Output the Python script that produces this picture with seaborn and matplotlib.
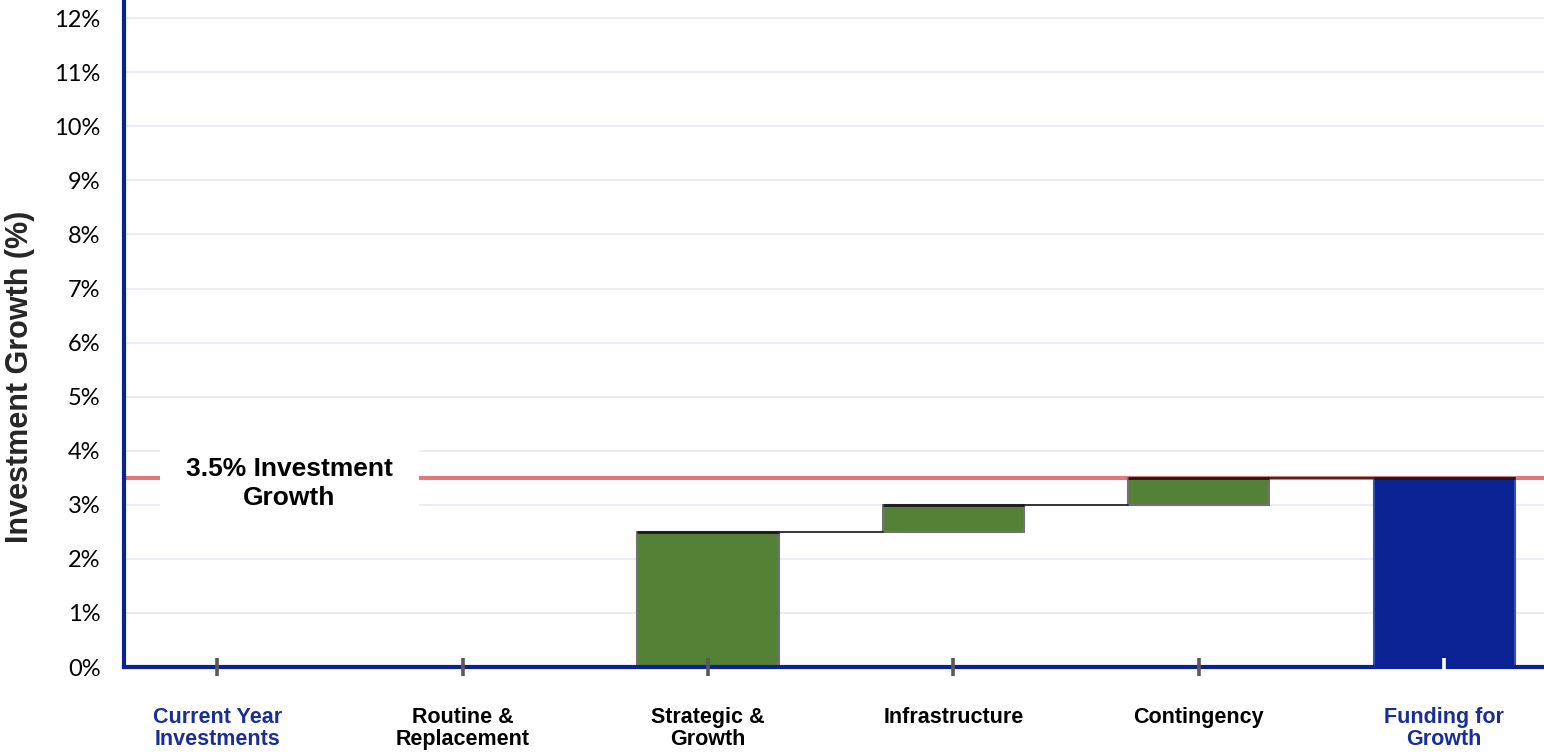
import numpy as np
import pandas as pd
import matplotlib
matplotlib.use("Agg")
import matplotlib.pyplot as plt
import seaborn as sns

# ---- data ----
categories = ["Current Year\nInvestments", "Routine &\nReplacement", "Strategic &\nGrowth",
              "Infrastructure", "Contingency", "Funding for\nGrowth"]
bar_base = [0.0, 0.0, 0.0, 2.5, 3.0, 0.0]
bar_height = [0.0, 0.0, 2.5, 0.5, 0.5, 3.5]
bar_kind = ["total", "step", "step", "step", "step", "total"]
target_growth = 3.5
target_label = "3.5% Investment\nGrowth"
y_ticks = list(range(0, 13))
y_tick_labels = [f"{v}%" for v in y_ticks]
y_label = "Investment Growth (%)"

# ---- style ----
sns.set_theme(style="white")
plt.rcParams["font.family"] = ["Liberation Sans", "DejaVu Sans"]

BLUE = "#0B2293"
GREEN = "#538135"
kind_face = {"total": BLUE, "step": GREEN}
kind_edge = {"total": "#3A4FB0", "step": "#767171"}
label_color = {"total": "#1A2F96", "step": "black"}

df = pd.DataFrame({"category": categories, "height": bar_height, "base": bar_base})

fig = plt.figure(figsize=(15.44, 7.53), dpi=100)
ax = fig.add_axes([124 / 1544, 1 - 667 / 753, 1 - 124 / 1544, (667 - 2) / 753])

W = 0.575
sns.barplot(data=df, x="category", y="height", order=categories, bottom=df["base"].to_numpy(),
            color=GREEN, saturation=1, width=W, errorbar=None, ax=ax, zorder=1)

for p, kind, h in zip(ax.patches, bar_kind, bar_height):
    p.set_facecolor(kind_face[kind])
    p.set_edgecolor(kind_edge[kind])
    p.set_linewidth(1.5)
    if h == 0:
        p.set_visible(False)

xs = np.arange(len(categories))
tops = np.array(bar_base) + np.array(bar_height)
# black top edges
for x, t, h in zip(xs, tops, bar_height):
    if h > 0:
        ax.plot([x - W / 2, x + W / 2], [t, t], color="#1a1a1a", lw=2.0, zorder=3,
                solid_capstyle="butt")
# connectors
for i in range(len(categories) - 1):
    ax.plot([xs[i] + W / 2, xs[i + 1] - W / 2], [tops[i], tops[i]], color="#262626",
            lw=1.3, zorder=2)

# target line
ax.axhline(target_growth, color="#E07A78", lw=3, zorder=0.9)

# annotation
ax.text(0.294, 3.40, target_label, ha="center", va="center", fontsize=19, fontweight="bold",
        color="black", linespacing=1.25, zorder=4,
        bbox=dict(boxstyle="square,pad=1.0", facecolor="white", edgecolor="none"))

# axes
ax.set_xlim(-0.380, 5.407)
ax.set_ylim(0, 12.3)
ax.set_yticks(y_ticks)
ax.set_yticklabels(y_tick_labels, fontsize=17, family=["Lato", "DejaVu Sans"])
ax.set_xlabel("")
ax.set_ylabel("")
ax.grid(axis="y", color="#E6EAF4", lw=1.2)
ax.set_axisbelow(True)
ax.xaxis.set_zorder(2.6)

for s in ["top", "right"]:
    ax.spines[s].set_visible(False)
for s in ["left", "bottom"]:
    ax.spines[s].set_color("#0C2196")
    ax.spines[s].set_linewidth(3)
    ax.spines[s].set_zorder(2.5)

ax.tick_params(axis="y", left=False, length=0, pad=17, colors="black")
ax.tick_params(axis="x", bottom=True, direction="inout", length=13, width=2.6,
               color="#595959", pad=22)
ax.set_xticks(xs)
ax.set_xticklabels(categories, fontsize=15.5, fontweight="bold", linespacing=1.1)
for tk, kind in zip(ax.xaxis.get_major_ticks(), bar_kind):
    tk.label1.set_color(label_color[kind])
last = ax.xaxis.get_major_ticks()[-1].tick1line
last.set_color("white")
last.set_markeredgecolor("white")

fig.text(20 / 1544, 1 - 377 / 753, y_label, rotation=90, ha="center", va="center",
         fontsize=22, fontweight="bold")

fig.savefig("out.png", dpi=100, facecolor="white")
